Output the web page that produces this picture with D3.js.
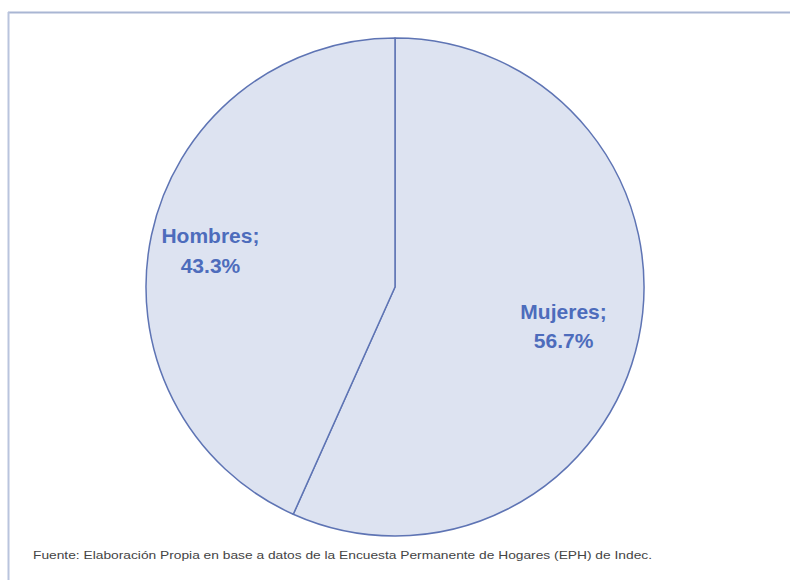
<!DOCTYPE html>
<html><head><meta charset="utf-8">
<script src="https://cdn.jsdelivr.net/npm/d3@7"></script>
<style>html,body{margin:0;padding:0;background:#fff;}svg{display:block;}</style>
</head><body>
<script>
const categories = ["Mujeres", "Hombres"];
const values = [56.7, 43.3];
const labels = ["56.7%", "43.3%"];
const sourceNote = "Fuente: Elaboración Propia en base a datos de la Encuesta Permanente de Hogares (EPH) de Indec.";

const W = 790, H = 580;
const svg = d3.select("body").append("svg").attr("width", W).attr("height", H);

// frame (top and left edges visible)
svg.append("line").attr("x1", 8).attr("y1", 12.5).attr("x2", W).attr("y2", 12.5)
  .attr("stroke", "#a9b6d3").attr("stroke-width", 2);
svg.append("line").attr("x1", 8.5).attr("y1", 12).attr("x2", 8.5).attr("y2", H)
  .attr("stroke", "#b9c4dd").attr("stroke-width", 2);

const cx = 395, cy = 287, r = 249;
const pie = d3.pie().sort(null).value(d => d.v);
const data = categories.map((c, i) => ({c, v: values[i], l: labels[i]}));
const arcs = pie(data);
const arc = d3.arc().innerRadius(0).outerRadius(r);
const g = svg.append("g").attr("transform", `translate(${cx},${cy})`);
g.selectAll("path").data(arcs).join("path")
  .attr("d", arc)
  .attr("fill", "#dde3f1")
  .attr("stroke", "#5e74b4")
  .attr("stroke-width", 1.5)
  .attr("stroke-linejoin", "round");

const labelArc = d3.arc().innerRadius(r * 0.725).outerRadius(r * 0.725);
const lg = g.append("g").attr("transform", "translate(-8,-5)")
  .selectAll("text.lbl").data(arcs).join("text")
  .attr("class", "lbl")
  .attr("text-anchor", "middle")
  .attr("font-family", "Liberation Sans, Arial, sans-serif")
  .attr("font-weight", "bold")
  .attr("font-size", 21)
  .attr("fill", "#4d6cbc")
  .attr("transform", d => { const [x, y] = labelArc.centroid(d); return `translate(${x},${y})`; });
lg.append("tspan").attr("x", 0).attr("dy", "-0.05em").text(d => d.data.c + ";");
lg.append("tspan").attr("x", 0).attr("dy", "1.4em").text(d => d.data.l);

svg.append("text").attr("x", 33).attr("y", 559)
  .attr("font-family", "Liberation Sans, Arial, sans-serif")
  .attr("font-size", 11)
  .attr("fill", "#444")
  .attr("textLength", 619).attr("lengthAdjust", "spacingAndGlyphs")
  .text(sourceNote);
</script>
</body></html>
